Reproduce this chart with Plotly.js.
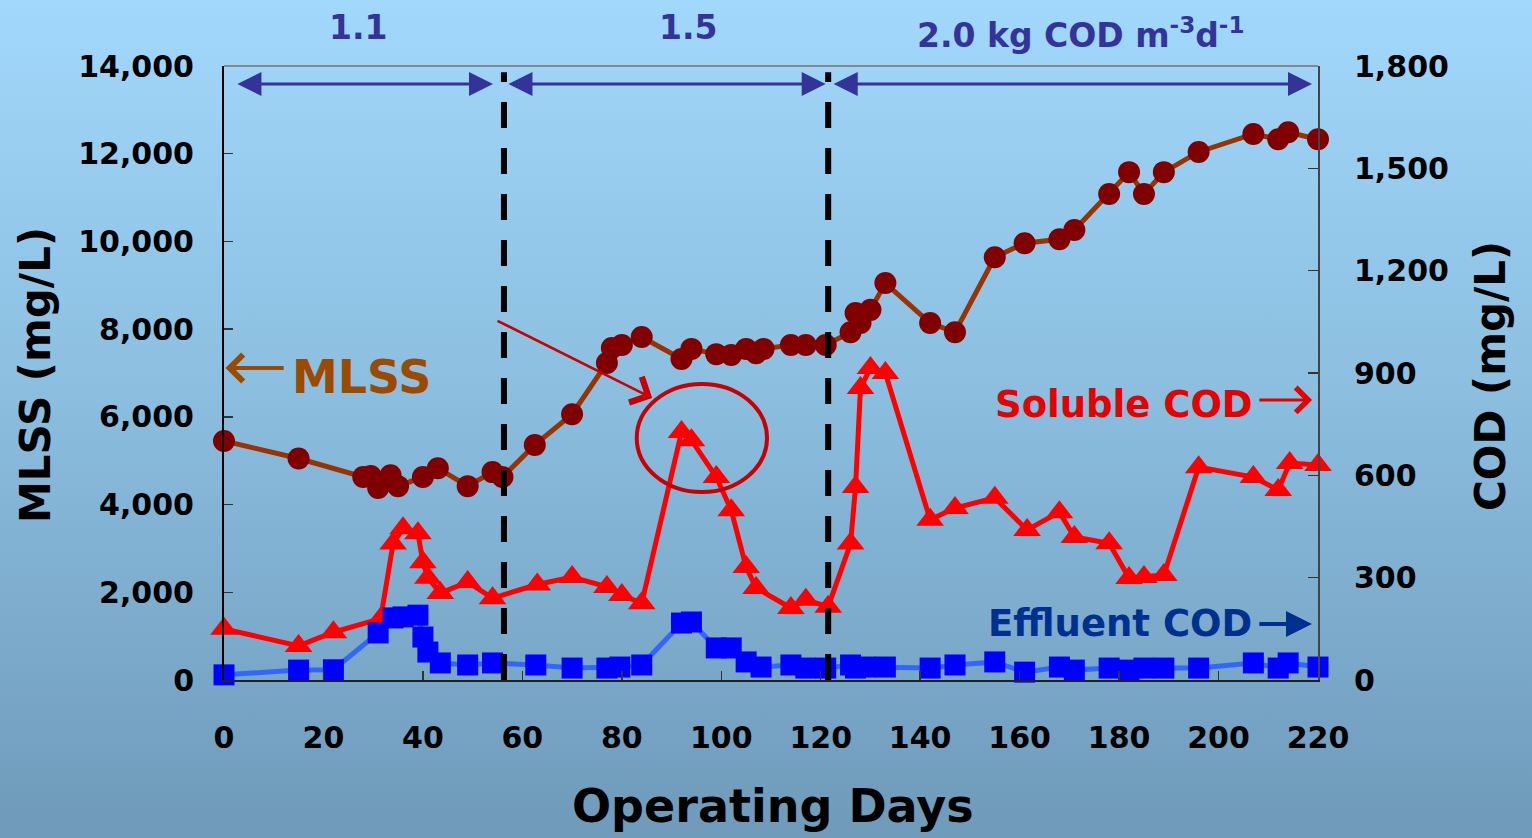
<!DOCTYPE html>
<html>
<head>
<meta charset="utf-8">
<script src="https://cdn.plot.ly/plotly-3.0.1.min.js"></script>
<style>
  html, body { margin: 0; padding: 0; width: 1532px; height: 838px; overflow: hidden; }
  body { background: linear-gradient(to bottom, #a2d8fc 0%, #8cbfe0 45%, #6f9aba 100%); }
  #chart { width: 1532px; height: 838px; }
</style>
</head>
<body>
<div id="chart"></div>
<script>
// ---- Data ----
const mlssDays = [0, 15, 28, 29.5, 31, 33.5, 35, 40, 43, 49, 54, 56,
  62.5, 70, 77, 78, 80, 84,
  92, 94, 99, 102, 105, 107, 108.5, 114, 117, 121,
  126, 127, 128, 130, 133,
  142, 147, 155, 161, 168, 171, 178, 182, 185, 189, 196,
  207, 212, 214, 220];
const mlssValues = [5450, 5050, 4630, 4650, 4380, 4670, 4420, 4630, 4830, 4420, 4740, 4630,
  5360, 6060, 7230, 7570, 7640, 7820,
  7320, 7550, 7430, 7410, 7550, 7450, 7550, 7640, 7640, 7640,
  7930, 8370, 8140, 8440, 9050,
  8140, 7930, 9640, 9960, 10050, 10260, 11080, 11580, 11080, 11580, 12040,
  12450, 12330, 12490, 12330];

const solDays = [0, 15, 22, 31.5, 34, 36, 39, 40, 41, 43.5, 49, 54,
  63, 70, 77, 80, 84,
  92, 94, 99, 102, 105, 107, 114, 117, 121.5,
  126, 127, 128, 130, 133,
  142, 147, 155, 161.5, 168, 171, 178, 182, 185, 189, 196,
  207, 212, 214.3, 220];
const solValues = [150, 100, 140, 180, 400, 445, 430, 345, 300, 255, 287, 240,
  280, 302, 273, 249, 225,
  727, 703, 595, 498, 331, 270, 211, 235, 215,
  400, 566, 856, 915, 900,
  470, 504, 534, 440, 492, 419, 401, 299, 302, 308, 624,
  595, 557, 636, 630];

const effDays = [0, 15, 22, 31, 34, 36, 39, 40, 41, 43.5, 49, 54,
  62.7, 70, 77, 79.6, 84,
  92, 94, 99, 102, 105, 108, 114, 117, 121,
  126, 127, 129, 133,
  142, 147, 155, 161, 168, 171, 178, 182, 185, 189, 196,
  207, 212, 214, 220];
const effValues = [15, 29, 30, 138, 182, 185, 190, 126, 82, 50, 44, 50,
  44, 35, 35, 38, 44,
  167, 170, 94, 94, 53, 38, 44, 35, 35,
  44, 35, 38, 38,
  35, 44, 53, 23, 38, 29, 35, 29, 35, 35, 35,
  50, 35, 50, 38];

const phaseBoundaries = [56.3, 121.5];
const phaseArrows = [[2.4, 54.1], [56.9, 121], [122.3, 218.8]];
const phaseLabels = ["1.1", "1.5", "2.0 kg COD m<sup>-3</sup>d<sup>-1</sup>"];
const phaseLabelX = [0.1225, 0.4241, 0.7825];
const phaseLabelY = [1.0635, 1.0635, 1.0537];

const xTicks = [0, 20, 40, 60, 80, 100, 120, 140, 160, 180, 200, 220];

// ---- Plot ----
const FONT = "DejaVu Sans, Verdana, sans-serif";

const traces = [
  {
    x: mlssDays, y: mlssValues, name: "MLSS", yaxis: "y", type: "scatter", mode: "lines+markers",
    line: { color: "#993300", width: 5 },
    marker: { symbol: "circle", size: 22, color: "#800000", line: { width: 0 } },
    cliponaxis: false
  },
  {
    x: solDays, y: solValues, name: "Soluble COD", yaxis: "y2", type: "scatter", mode: "lines+markers",
    line: { color: "#ff0000", width: 5 },
    marker: { symbol: "triangle-up", size: 24, color: "#ff0000", line: { width: 0 } },
    cliponaxis: false
  },
  {
    x: effDays, y: effValues, name: "Effluent COD", yaxis: "y2", type: "scatter", mode: "lines+markers",
    line: { color: "#3366ff", width: 5 },
    marker: { symbol: "square", size: 21, color: "#0000ff", line: { width: 0 } },
    cliponaxis: false
  }
];

const shapes = phaseBoundaries.map(d => ({
  type: "line", xref: "x", yref: "paper", x0: d, x1: d, y0: 0, y1: 0.99,
  line: { color: "#000000", width: 6, dash: "26px,20px" }, layer: "above"
}));
shapes.push({
  type: "circle", xref: "x", yref: "y", x0: 83.0, x1: 109.2, y0: 4286, y1: 6749,
  line: { color: "#c80000", width: 4 }, layer: "above"
});

const annotations = [];
phaseArrows.forEach(a => {
  annotations.push({
    xref: "x", yref: "paper", x: a[1], y: 0.9707, axref: "x", ayref: "pixel", ax: a[0], ay: 0,
    text: "", showarrow: true, arrowside: "end+start", arrowhead: 2, arrowsize: 1.6,
    arrowwidth: 3, arrowcolor: "#333399", standoff: 0, startstandoff: 0
  });
});
phaseLabels.forEach((t, i) => {
  annotations.push({
    xref: "paper", yref: "paper", x: phaseLabelX[i], y: phaseLabelY[i], text: t, showarrow: false,
    xanchor: "center", yanchor: "middle",
    font: { family: FONT, size: 33, color: "#333399", weight: "bold" }
  });
});
// Axis titles
annotations.push({
  xref: "paper", yref: "paper", x: -0.1728, y: 0.4967, text: "MLSS (mg/L)", textangle: -90,
  showarrow: false, xanchor: "center", yanchor: "middle",
  font: { family: FONT, size: 42, color: "#000000", weight: "bold" }
});
annotations.push({
  xref: "paper", yref: "paper", x: 1.1572, y: 0.495, text: "COD (mg/L)", textangle: -90,
  showarrow: false, xanchor: "center", yanchor: "middle",
  font: { family: FONT, size: 42, color: "#000000", weight: "bold" }
});
annotations.push({
  xref: "paper", yref: "paper", x: 0.5018, y: -0.205, text: "Operating Days",
  showarrow: false, xanchor: "center", yanchor: "middle",
  font: { family: FONT, size: 46, color: "#000000", weight: "bold" }
});
// Series labels
annotations.push({
  xref: "paper", yref: "paper", x: 0.126, y: 0.4935, text: "MLSS", showarrow: false,
  xanchor: "center", yanchor: "middle",
  font: { family: FONT, size: 46, color: "#9c4a00", weight: "bold" }
});
annotations.push({
  xref: "x", yref: "y", x: 0.3, y: 7114, axref: "x", ayref: "y", ax: 12.3, ay: 7114,
  text: "", showarrow: true, arrowhead: 4, arrowsize: 1.3, arrowwidth: 4, arrowcolor: "#9c4a00", standoff: 0
});
annotations.push({
  xref: "paper", yref: "paper", x: 0.8231, y: 0.448, text: "Soluble COD", showarrow: false,
  xanchor: "center", yanchor: "middle",
  font: { family: FONT, size: 37, color: "#e60000", weight: "bold" }
});
annotations.push({
  xref: "x", yref: "y2", x: 218.8, y: 821, axref: "x", ayref: "y2", ax: 207.9, ay: 821,
  text: "", showarrow: true, arrowhead: 4, arrowsize: 1.6, arrowwidth: 3, arrowcolor: "#e60000", standoff: 0
});
annotations.push({
  xref: "paper", yref: "paper", x: 0.8186, y: 0.0928, text: "Effluent COD", showarrow: false,
  xanchor: "center", yanchor: "middle",
  font: { family: FONT, size: 37, color: "#00308f", weight: "bold" }
});
annotations.push({
  xref: "x", yref: "y2", x: 218.8, y: 164, axref: "x", ayref: "y2", ax: 207.9, ay: 164,
  text: "", showarrow: true, arrowhead: 2, arrowsize: 1.3, arrowwidth: 4, arrowcolor: "#00308f", standoff: 0
});
// Highlight arrow toward the circled peak
annotations.push({
  xref: "x", yref: "y", x: 86.1, y: 6430, axref: "x", ayref: "y", ax: 54.7, ay: 8208,
  text: "", showarrow: true, arrowhead: 4, arrowsize: 2.2, arrowwidth: 2.5, arrowcolor: "#c80000", standoff: 0
});

const tickFont = { family: FONT, size: 30, color: "#000000", weight: "bold" };

const layout = {
  width: 1532, height: 838,
  margin: { l: 224, r: 214, t: 66, b: 158 },
  paper_bgcolor: "rgba(0,0,0,0)",
  plot_bgcolor: "rgba(0,0,0,0)",
  showlegend: false,
  xaxis: {
    range: [0, 220], tickvals: xTicks, ticktext: xTicks.map(String),
    ticks: "inside", ticklen: 9, tickwidth: 1.5, tickcolor: "#333333",
    showline: true, linecolor: "#222222", linewidth: 2, mirror: false,
    showgrid: false, zeroline: false, tickfont: tickFont, ticklabelstandoff: 30
  },
  yaxis: {
    range: [0, 14000], dtick: 2000, tickformat: ",d",
    ticks: "inside", ticklen: 9, tickwidth: 1.5, tickcolor: "#333333",
    showline: true, linecolor: "#000000", linewidth: 2,
    showgrid: false, zeroline: false, tickfont: tickFont, ticklabelstandoff: 22
  },
  yaxis2: {
    range: [0, 1800], dtick: 300, tickformat: ",d", overlaying: "y", side: "right",
    ticks: "inside", ticklen: 10, tickwidth: 1.5, tickcolor: "#333333",
    showline: true, linecolor: "#444444", linewidth: 2,
    showgrid: false, zeroline: false, tickfont: tickFont, ticklabelstandoff: 28
  },
  shapes: shapes.concat([{
    type: "line", xref: "paper", yref: "paper", x0: 0, x1: 1, y0: 1, y1: 1,
    line: { color: "#888888", width: 2 }, layer: "below"
  }]),
  annotations: annotations
};

Plotly.newPlot("chart", traces, layout, { displayModeBar: false, staticPlot: true });
</script>
</body>
</html>
